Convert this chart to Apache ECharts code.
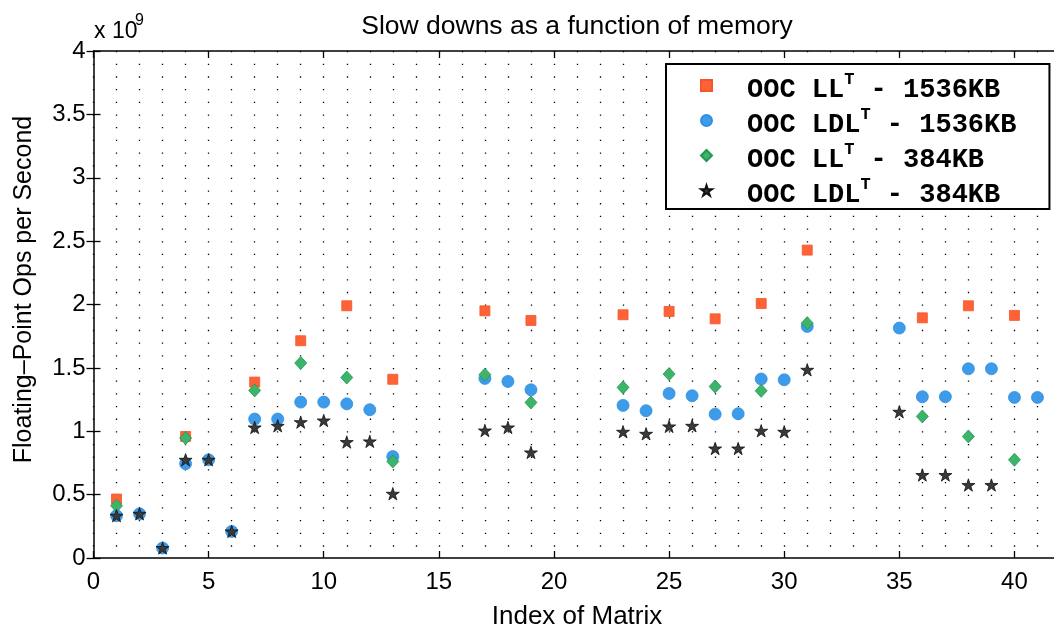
<!DOCTYPE html>
<html>
<head>
<meta charset="utf-8">
<script src="https://cdn.jsdelivr.net/npm/echarts@6/dist/echarts.min.js"></script>
<style>
html, body { margin: 0; padding: 0; background: #fff; }
#chart { width: 1054px; height: 626px; }
</style>
</head>
<body>
<div id="chart"></div>
<script>
// index of each matrix on the x axis
var matrixIndex = [1, 2, 3, 4, 5, 6, 7, 8, 9, 10, 11, 12, 13, 17, 18, 19, 23, 24, 25, 26, 27, 28, 29, 30, 31, 35, 36, 37, 38, 39, 40, 41];
// flops per second, in units of 1e9 (null = no marker)
var llt1536 = [0.465, null, null, 0.959, null, null, 1.388, null, 1.714, null, 1.99, null, 1.41, 1.95, null, 1.874, 1.919, null, 1.945, null, 1.887, null, 2.008, null, 2.429, null, 1.895, null, 1.99, null, 1.914, null];
var ldlt1536 = [0.334, 0.349, 0.079, 0.744, 0.775, 0.21, 1.096, 1.096, 1.23, 1.23, 1.216, 1.17, 0.80, 1.417, 1.393, 1.327, 1.204, 1.162, 1.298, 1.28, 1.135, 1.138, 1.412, 1.406, 1.827, 1.814, 1.272, 1.272, 1.493, 1.493, 1.267, 1.267];
var llt384 = [0.412, null, null, 0.946, null, null, 1.322, null, 1.538, null, 1.424, null, 0.762, 1.446, null, 1.227, 1.346, null, 1.451, null, 1.353, null, 1.319, null, 1.853, null, 1.117, null, 0.959, null, 0.775, null];
var ldlt384 = [0.334, 0.349, 0.079, 0.775, 0.775, 0.21, 1.03, 1.043, 1.072, 1.085, 0.915, 0.92, 0.507, 1.006, 1.03, 0.833, 0.996, 0.98, 1.038, 1.043, 0.864, 0.864, 1.004, 0.996, 1.485, 1.154, 0.655, 0.655, 0.576, 0.576, null, null];

var seriesNames = ['OOC LL^T - 1536KB', 'OOC LDL^T - 1536KB', 'OOC LL^T - 384KB', 'OOC LDL^T - 384KB'];
var starPath = 'path://M50,0L61.2,34.5L97.6,34.5L68.2,55.9L79.4,90.5L50,69.1L20.6,90.5L31.8,55.9L2.4,34.5L38.8,34.5Z';

function pairs(vals) {
    var out = [];
    for (var i = 0; i < matrixIndex.length; i++) {
        if (vals[i] !== null) out.push([matrixIndex[i], vals[i]]);
    }
    return out;
}

var myChart = echarts.init(document.getElementById('chart'));
var sansFont = 'Liberation Sans, Arial, sans-serif';
var monoFont = 'Liberation Mono, Courier New, monospace';

var option = {
    animation: false,
    backgroundColor: '#fff',
    title: {
        text: 'Slow downs as a function of memory',
        left: 577,
        top: 13,
        padding: 0,
        textAlign: 'center',
        textStyle: { fontFamily: sansFont, fontSize: 26.5, fontWeight: 'normal', color: '#000' }
    },
    graphic: [
        { type: 'text', left: 94, top: 20, style: { text: 'x 10', font: '23px ' + sansFont, fill: '#000' } },
        { type: 'text', left: 135, top: 13, style: { text: '9', font: '16px ' + sansFont, fill: '#000' } }
    ],
    grid: { left: 93.5, top: 51, width: 967, height: 507, containLabel: false, outerBoundsMode: 'none' },
    legend: {
        orient: 'vertical',
        left: 666,
        top: 64,
        padding: [3, 33, 0, 34],
        itemGap: -2,
        itemWidth: 11,
        itemHeight: 11,
        backgroundColor: '#fff',
        borderColor: '#000',
        borderWidth: 2,
        borderRadius: 0,
        data: seriesNames,
        formatter: function (name) {
            var p = name.split('^T');
            return '{a|' + p[0] + '}{s|T}{b|' + p[1] + '}';
        },
        textStyle: {
            fontFamily: monoFont,
            fontWeight: 'bold',
            fontSize: 27,
            lineHeight: 24,
            color: '#000',
            rich: {
                a: { fontFamily: monoFont, fontWeight: 'bold', fontSize: 27, lineHeight: 24, padding: [10, 0, 0, 30], color: '#000' },
                s: { fontFamily: monoFont, fontWeight: 'bold', fontSize: 17, lineHeight: 17, padding: [3, 0, 14, 0], color: '#000' },
                b: { fontFamily: monoFont, fontWeight: 'bold', fontSize: 27, lineHeight: 24, padding: [10, 0, 0, 0], color: '#000' }
            }
        }
    },
    xAxis: [
        {
            type: 'value', min: 0, max: 42, interval: 5,
            name: 'Index of Matrix', nameLocation: 'middle', nameGap: 46,
            nameTextStyle: { fontFamily: sansFont, fontSize: 26, color: '#000' },
            axisLine: { onZero: false, lineStyle: { color: '#000', width: 1.5 } },
            axisTick: { inside: true, length: 7, lineStyle: { color: '#000', width: 1.3 } },
            axisLabel: {
                margin: 12, showMaxLabel: false, color: '#000', fontFamily: sansFont, fontSize: 24,
                formatter: function (v) { return v % 5 === 0 ? String(v) : ''; }
            },
            splitLine: { show: false }
        },
        {
            type: 'value', min: 0, max: 42, interval: 5, position: 'top',
            axisLine: { onZero: false, lineStyle: { color: '#000', width: 1.5 } },
            axisTick: { inside: true, length: 7, lineStyle: { color: '#000', width: 1.3 } },
            axisLabel: { show: false },
            splitLine: { show: false }
        },
        {
            // dotted grid: one line per integer, dots every 0.1 in y
            type: 'value', min: 0, max: 42, interval: 1, position: 'bottom',
            axisLine: { show: false }, axisTick: { show: false }, axisLabel: { show: false },
            splitLine: { show: true, lineStyle: { color: '#000', width: 1.3, type: [1.3, 11.375] } }
        }
    ],
    yAxis: [
        {
            type: 'value', min: 0, max: 4, interval: 0.5,
            name: 'Floating\u2013Point Ops per Second', nameLocation: 'middle', nameGap: 57,
            nameTextStyle: { fontFamily: sansFont, fontSize: 25, color: '#000', padding: [0, 0, 0, 30] },
            axisLine: { onZero: false, lineStyle: { color: '#000', width: 1.5 } },
            axisTick: { inside: true, length: 7, lineStyle: { color: '#000', width: 1.3 } },
            axisLabel: { margin: 8, color: '#000', fontFamily: sansFont, fontSize: 24 },
            splitLine: { show: false }
        },
        {
            type: 'value', min: 0, max: 4, interval: 0.5, position: 'right',
            axisLine: { show: false },
            axisTick: { inside: true, length: 7, lineStyle: { color: '#000', width: 1.3 } },
            axisLabel: { show: false },
            splitLine: { show: false }
        }
    ],
    series: [
        {
            name: seriesNames[0], type: 'scatter', data: pairs(llt1536),
            symbol: 'rect', symbolSize: 10,
            itemStyle: { color: '#ff6236', borderColor: '#f2562b', borderWidth: 0.8, opacity: 1 }
        },
        {
            name: seriesNames[1], type: 'scatter', data: pairs(ldlt1536),
            symbol: 'circle', symbolSize: 12,
            itemStyle: { color: '#3d9be9', borderColor: '#2f8fe0', borderWidth: 0.8, opacity: 1 }
        },
        {
            name: seriesNames[2], type: 'scatter', data: pairs(llt384),
            symbol: 'diamond', symbolSize: [12, 13],
            itemStyle: { color: '#3cb46b', borderColor: '#23964f', borderWidth: 0.8, opacity: 1 }
        },
        {
            name: seriesNames[3], type: 'scatter', data: pairs(ldlt384),
            symbol: starPath, symbolSize: 13, symbolKeepAspect: true,
            itemStyle: { color: '#3a3a3a', borderColor: '#111', borderWidth: 0.8, opacity: 1 }
        }
    ]
};

myChart.setOption(option);
</script>
</body>
</html>
